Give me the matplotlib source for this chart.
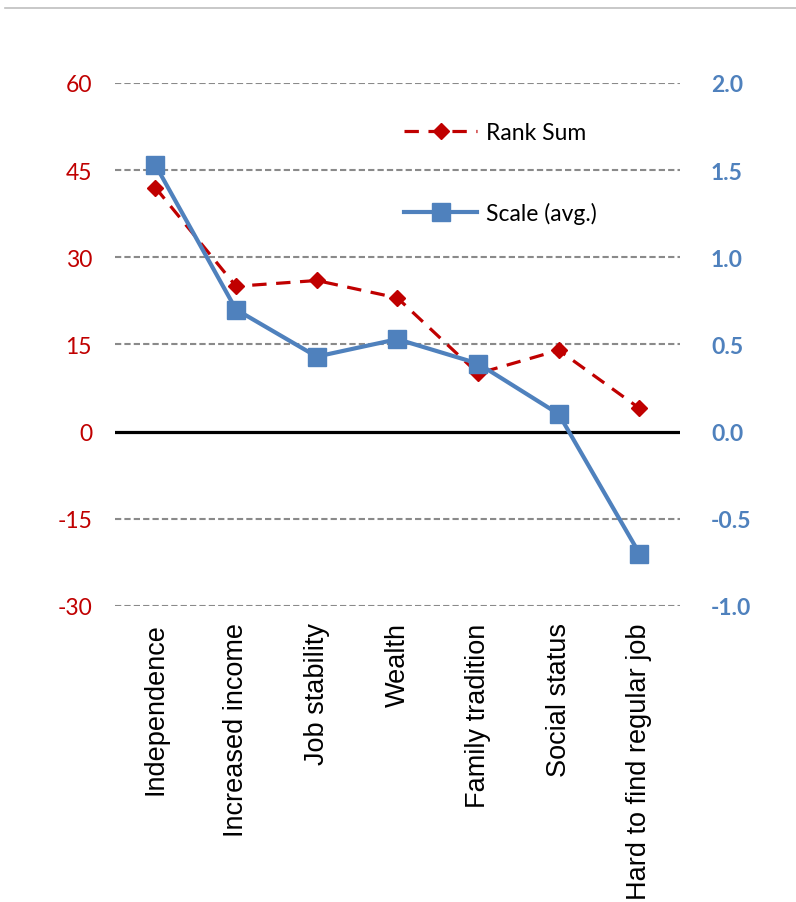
import matplotlib
matplotlib.use("Agg")
import matplotlib.pyplot as plt
from matplotlib.lines import Line2D

# --- data ---
categories = ["Independence", "Increased income", "Job stability", "Wealth",
              "Family tradition", "Social status", "Hard to find regular job"]
rank_sum = [42, 25, 26, 23, 10, 14, 4]
scale_avg = [1.53, 0.70, 0.43, 0.53, 0.39, 0.10, -0.70]
left_ticks = [-30, -15, 0, 15, 30, 45, 60]
right_ticks = [-1.0, -0.5, 0.0, 0.5, 1.0, 1.5, 2.0]

RED = "#C00000"
BLUE = "#4F81BD"
plt.rcParams["font.family"] = ["Lato", "DejaVu Sans"]

fig = plt.figure(figsize=(7.96, 9.03), dpi=100)
ax = fig.add_axes([0.1445, 0.328, 0.7095, 0.579])
ax2 = ax.twinx()

x = list(range(len(categories)))

# gridlines (dashed gray) and zero line (black)
for t in left_ticks:
    if t == 0:
        continue
    ax.axhline(t, color="#8a8a8a", lw=1.5, ls=(0, (3, 1.5)), zorder=0)
ax.axhline(0, color="black", lw=2.3, zorder=1)

ax.plot(x, rank_sum, color=RED, lw=2.3, ls=(0, (4.5, 3)), marker="D",
        markersize=8.5, zorder=3)
ax2.plot(x, scale_avg, color=BLUE, lw=3, marker="s", markersize=13, zorder=4)

ax.set_xlim(-0.5, len(categories) - 0.5)
ax.set_ylim(-30, 60)
ax2.set_ylim(-1.0, 2.0)
ax.set_yticks(left_ticks)
ax.set_yticklabels([str(t) for t in left_ticks], color=RED, fontsize=16.5)
ax2.set_yticks(right_ticks)
ax2.set_yticklabels([f"{t:.1f}" for t in right_ticks], color=BLUE,
                    fontsize=16.5, fontweight="bold")
ax.set_xticks(x)
ax.set_xticklabels(categories, rotation=90, fontsize=19.5,
                   family=["Liberation Sans", "DejaVu Sans"])

for a in (ax, ax2):
    for s in a.spines.values():
        s.set_visible(False)
    a.tick_params(length=0)
ax.tick_params(axis="y", pad=16.5)
ax2.tick_params(axis="y", pad=22.5)
ax.tick_params(axis="x", pad=12)

handles = [
    Line2D([], [], color=RED, lw=2.3, ls=(0, (4.5, 3)), marker="D", markersize=8.5),
    Line2D([], [], color=BLUE, lw=3, marker="s", markersize=13),
]
ax2.legend(handles, ["Rank Sum", "Scale (avg.)"], loc="upper left",
           bbox_to_anchor=(0.475, 0.964), frameon=False, fontsize=16.5,
           handlelength=3.2, labelspacing=2.55, handletextpad=0.4)

# thin gray rule at the top of the figure
fig.add_artist(Line2D([0.006, 1.0], [0.990, 0.990], color="#bfbfbf", lw=1.2))

fig.savefig("out.png", dpi=100)
